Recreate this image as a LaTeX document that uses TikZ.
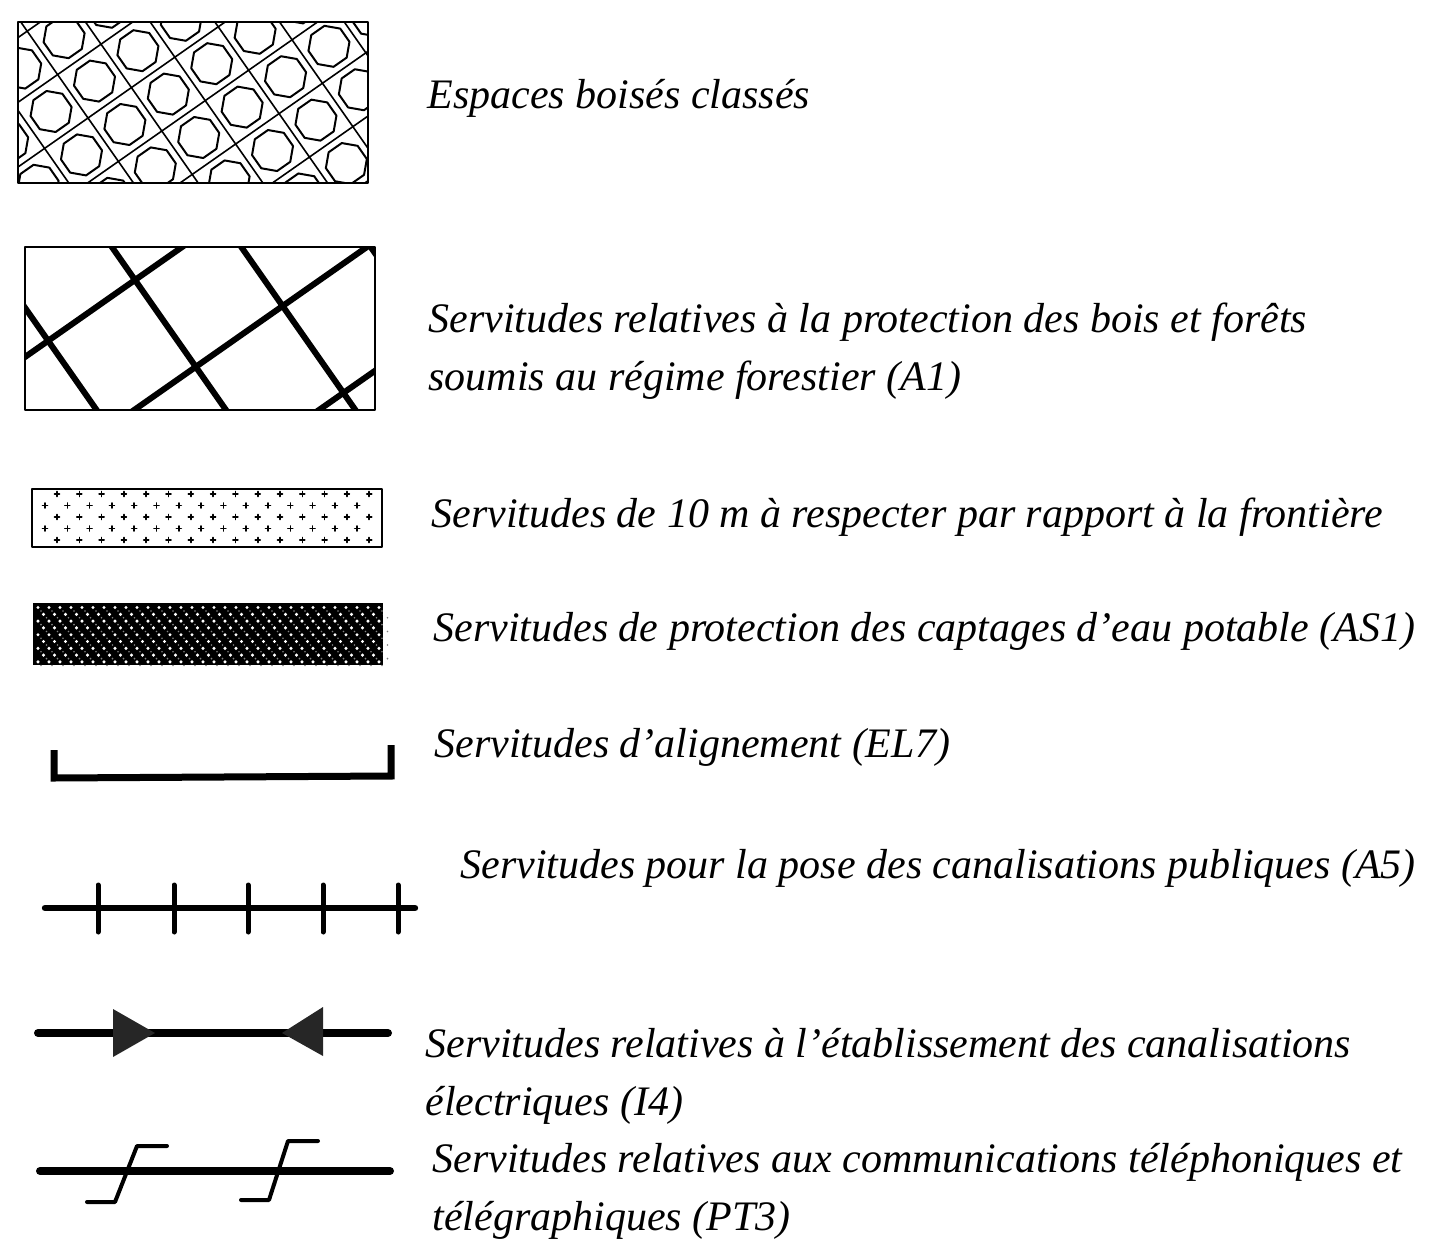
\documentclass[tikz,border=0pt]{standalone}
\usepackage{fontspec}
\setmainfont{Liberation Serif}
\usetikzlibrary{arrows}
\tikzset{
	legtext/.style={anchor=base west,inner sep=0pt,align=left,font=\itshape\fontsize{21}{29}\selectfont},
	legbox/.style={draw=black,line width=1pt},
	heavyline/.style={line width=3.5pt,line cap=butt,line join=miter}
}
\begin{document}
\begin{tikzpicture}[line cap=round,line join=round,x=0.5pt,y=-0.5pt]
		\useasboundingbox (0,0) rectangle (1435,1242);
		% espaces boises
		\begin{scope}
		\clip (18,22) rectangle (368,183);
		\begin{scope}[shift={(88,118)},rotate=35]
		\foreach \k in {-6,...,6}
		\draw[line width=0.8pt] (-400,\k*53) -- (400,\k*53) (\k*53,-400) -- (\k*53,400);
		\foreach \i in {-6,...,6}
		\foreach \j in {-6,...,6}
		\draw[line width=1pt,shift={(\i*53+26.5,\j*53+26.5)}] (22.5:21) -- (67.5:21) -- (112.5:21) -- (157.5:21) -- (202.5:21) -- (247.5:21) -- (292.5:21) -- (337.5:21) -- cycle;
		\end{scope}
		\end{scope}
		\draw[legbox] (18,22) rectangle (368,183);
		% regime forestier
		\begin{scope}
		\clip (25,247) rectangle (375,410);
		\begin{scope}[shift={(135,280)},rotate=35]
		\foreach \k in {-3,...,3}
		\draw[line width=3pt] (-500,\k*106) -- (500,\k*106) (\k*106,-500) -- (\k*106,500);
		\end{scope}
		\end{scope}
		\draw[legbox,line width=0.8pt] (25,247) rectangle (375,410);
		% frontiere
		\draw[legbox] (32,489) rectangle (382,547);
		\foreach \r in {0,2,4}
		\foreach \c in {0,...,14}
		\draw[line width=0.8pt,shift={(57+\c*22.3,494+\r*11.5)}] (-2.5,0) -- (2.5,0) (0,-2.5) -- (0,2.5);
		\foreach \r in {1,3}
		\foreach \c in {0,...,14}
		\draw[line width=0.8pt,shift={(45+\c*22.3,494+\r*11.5)}] (-2.5,0) -- (2.5,0) (0,-2.5) -- (0,2.5);
		% captages
		\fill[black] (33,603) rectangle (383,665);
		\foreach \r [evaluate=\r as \off using {mod(\r,2)*5.5}] in {0,...,8}
		\foreach \c in {0,...,31}
		{
		\fill[white] (38+\c*11+\off,607.5+\r*6.8) circle (1.7);
		\fill[gray] (41+\c*11+\off,611+\r*6.8) circle (0.9);
		}
		% alignement
		\draw[heavyline] (54,750) -- (54,778) -- (391,776) -- (391,745);
		% canalisations
		\draw[line width=3.2pt] (45,908) -- (415,908);
		\foreach \x in {98,174,248,323,398}
		\draw[line width=2.5pt] (\x,885) -- (\x,932);
		% electriques
		\draw[line width=4pt] (38,1033) -- (388,1033);
		\fill[black!85] (113,1009) -- (155,1033) -- (113,1057) -- cycle;
		\fill[black!85] (323,1007) -- (282,1033) -- (323,1056) -- cycle;
		% telephone
		\draw[line width=4pt] (40,1171) -- (390,1171);
		\draw[line width=2pt] (167,1146) -- (137,1146) -- (115,1202) -- (87,1202);
		\draw[line width=2pt] (318,1141) -- (288,1141) -- (269,1200) -- (241,1200);
		% textes (base = derniere ligne)
		\node[legtext] (esp) at (427,108) {Espaces boisés classés};
		\node[legtext] (forest) at (428,390) {Servitudes relatives à la protection des bois et forêts\\soumis au régime forestier (A1)};
		\node[legtext] (front) at (431,527) {Servitudes de 10 m à respecter par rapport à la frontière};
		\node[legtext] (capt) at (433,641) {Servitudes de protection des captages d'eau potable (AS1)};
		\node[legtext] (align) at (434,757) {Servitudes d'alignement (EL7)};
		\node[legtext] (canal) at (460,878) {Servitudes pour la pose des canalisations publiques (A5)};
		\node[legtext] (elec) at (425,1115) {Servitudes relatives à l'établissement des canalisations\\électriques (I4)};
		\node[legtext] (tele) at (432,1230) {Servitudes relatives aux communications téléphoniques et\\télégraphiques (PT3)};
\end{tikzpicture}
\end{document}
